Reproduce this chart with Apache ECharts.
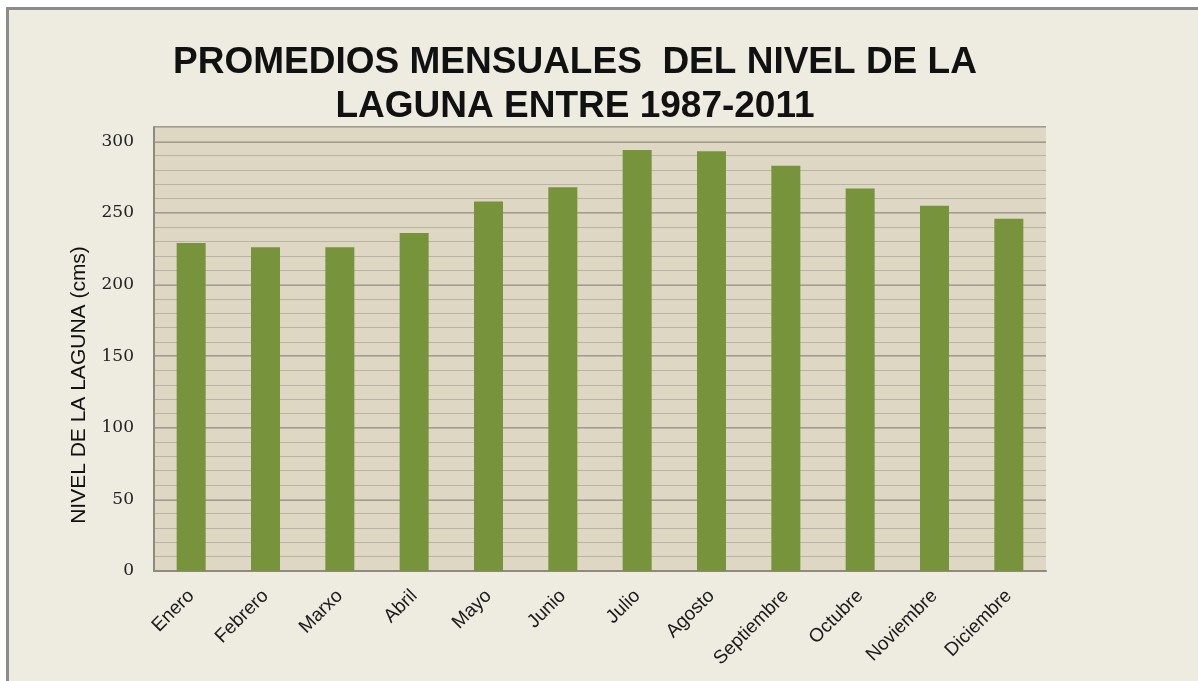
<!DOCTYPE html>
<html>
<head>
<meta charset="utf-8">
<script src="https://cdn.jsdelivr.net/npm/echarts@6/dist/echarts.min.js"></script>
<style>
  html, body { margin: 0; padding: 0; background: #fff; }
  #wrap { position: relative; width: 1198px; height: 681px; overflow: hidden; }
  #frame { position: absolute; left: 6px; top: 7px; right: -10px; bottom: -10px;
           border-left: 3px solid #8c8c8c; border-top: 3px solid #8c8c8c; background: #EEEBE0; }
  #chart { position: absolute; left: 0; top: 0; width: 1198px; height: 681px; }
</style>
</head>
<body>
<div id="wrap">
  <div id="frame"></div>
  <div id="chart"></div>
</div>
<script>
const months = ['Enero', 'Febrero', 'Marxo', 'Abril', 'Mayo', 'Junio', 'Julio', 'Agosto', 'Septiembre', 'Octubre', 'Noviembre', 'Diciembre']
const nivel = [229, 226, 226, 236, 258, 268, 294, 293, 283, 267, 255, 246]
const yMax = 310
const majorStep = 50
const minorStep = 10

const chart = echarts.init(document.getElementById('chart'))
chart.setOption({
  backgroundColor: 'transparent',
  title: {
    text: 'PROMEDIOS MENSUALES  DEL NIVEL DE LA\nLAGUNA ENTRE 1987-2011',
    left: 570, top: 36, textAlign: 'center',
    textStyle: { fontFamily: 'Liberation Sans', fontWeight: 'bold', fontSize: 37, lineHeight: 44, color: '#111' }
  },
  grid: {
    left: 154, right: 152, top: 127, bottom: 110,
    show: true, backgroundColor: '#DDD7C3', borderWidth: 0
  },
  xAxis: {
    type: 'category', data: months,
    axisLine: { lineStyle: { color: '#8f8a7e', width: 2 } },
    axisTick: { show: false },
    axisLabel: { rotate: 45, margin: 22, fontFamily: 'Liberation Sans', fontSize: 19, color: '#1a1a1a', interval: 0 }
  },
  yAxis: [{
    type: 'value', min: 0, max: yMax, interval: majorStep,
    name: 'NIVEL DE LA LAGUNA (cms)', nameLocation: 'middle', nameGap: 64, nameRotate: 90,
    nameTextStyle: { fontFamily: 'Liberation Sans', fontSize: 21, color: '#111', padding: [0, 72, 0, 0] },
    axisLine: { show: true, lineStyle: { color: '#8f8a7e', width: 2 } },
    axisTick: { show: false },
    axisLabel: {
      margin: 20, fontFamily: 'DejaVu Serif', fontSize: 17, color: '#222',
      formatter: v => (v % majorStep === 0 ? v : '')
    },
    splitLine: { lineStyle: { color: '#a19c8e', width: 2 } }
  }, {
    type: 'value', min: 0, max: yMax, interval: minorStep,
    axisLine: { show: false }, axisTick: { show: false }, axisLabel: { show: false },
    splitLine: { lineStyle: { color: '#b9b3a3', width: 1 } }
  }],
  series: [{
    type: 'bar', data: nivel, yAxisIndex: 0, barWidth: 29,
    itemStyle: { color: '#77933C' }
  }]
})
</script>
</body>
</html>
